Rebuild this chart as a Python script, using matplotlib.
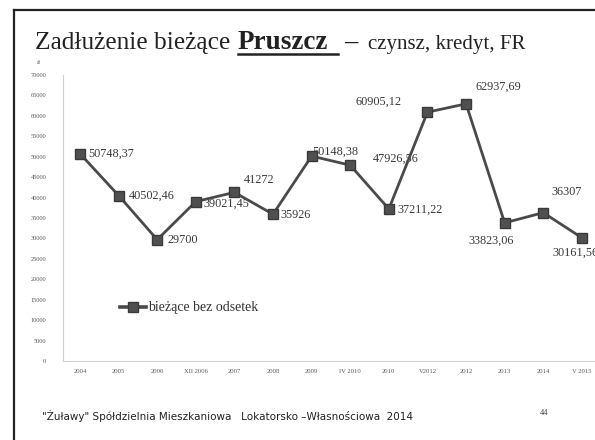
import matplotlib
matplotlib.use("Agg")
import matplotlib.pyplot as plt
from matplotlib.lines import Line2D

categories = ["2004", "2005", "2006", "XII 2006", "2007", "2008", "2009", "IV 2010",
              "2010", "V2012", "2012", "2013", "2014", "V 2015"]
values = [50748.37, 40502.46, 29700, 39021.45, 41272, 35926, 50148.38, 47926.56,
          37211.22, 60905.12, 62937.69, 33823.06, 36307, 30161.56]
value_labels = ["50748,37", "40502,46", "29700", "39021,45", "41272", "35926", "50148,38",
                "47926,56", "37211,22", "60905,12", "62937,69", "33823,06", "36307", "30161,56"]
y_ticks = list(range(0, 70001, 5000))
series_name = "bieżące bez odsetek"

W, H = 595, 440
fig = plt.figure(figsize=(W / 100, H / 100), dpi=100)
fig.patch.set_facecolor("white")

def fx(px):
    return px / W

def fy(py):
    return 1 - py / H

ax = fig.add_axes([fx(63), fy(361), fx(595) - fx(63), fy(75) - fy(361)])
ax.set_facecolor("white")
x = list(range(len(categories)))
ax.plot(x, values, color="#4a4a4a", lw=2.0, marker="s", markersize=6.5,
        markerfacecolor="#505050", markeredgecolor="#3a3a3a", zorder=3,
        label=series_name)
ax.set_xlim(-0.44, 13.34)
ax.set_ylim(0, 70000)
ax.set_yticks(y_ticks)
ax.set_yticklabels([str(t) for t in y_ticks], fontsize=4.6, family="Liberation Serif", color="#5a5a5a")
ax.set_xticks(x)
ax.set_xticklabels(categories, fontsize=4.8, family="Liberation Serif", color="#5a5a5a")
ax.tick_params(axis="y", length=0, pad=12)
ax.tick_params(axis="x", length=0, pad=6)
for s in ["top", "right"]:
    ax.spines[s].set_visible(False)
for s in ["left", "bottom"]:
    ax.spines[s].set_color("#d0d0d0")
    ax.spines[s].set_linewidth(0.8)

# label offsets in pixels (dx, dy, ha)
offsets = [(8, 0, "left"), (10, 0, "left"), (10, 0, "left"), (8, -2, "left"),
           (9, 12, "left"), (7, -1, "left"), (1, 4, "left"), (23, 6, "left"),
           (9, -1, "left"), (-26, 10, "right"), (9, 17, "left"), (-13, -18, "center"),
           (8, 21, "left"), (-29, -15, "left")]
for xi, v, lab, (dx, dy, ha) in zip(x, values, value_labels, offsets):
    ax.annotate(lab, (xi, v), xytext=(dx, dy), textcoords="offset pixels",
                ha=ha, va="center", fontsize=8.8, family="Liberation Serif",
                color="#3a3a3a", zorder=2, annotation_clip=False)

leg = ax.legend(loc="center left", bbox_to_anchor=(fx(120), fy(308)),
                bbox_transform=fig.transFigure, frameon=False, borderpad=0,
                borderaxespad=0, handlelength=1.9, handletextpad=0.15,
                prop={"family": "Liberation Serif", "size": 10})
for t in leg.get_texts():
    t.set_color("#333333")
for h in leg.legend_handles:
    h.set_linewidth(2.6)

# Title
fig.text(fx(35), fy(49), "Zadłużenie bieżące", fontsize=18.3, family="Liberation Serif",
         color="#222222", va="baseline", ha="left")
fig.text(fx(238), fy(49), "Pruszcz", fontsize=19.5, family="Liberation Serif",
         weight="bold", color="#222222", va="baseline", ha="left")
fig.add_artist(Line2D([fx(238), fx(338)], [fy(54), fy(54)], color="#222222", lw=1.8,
                      transform=fig.transFigure))
fig.text(fx(344), fy(49), "–", fontsize=19, family="Liberation Serif", weight="bold",
         color="#222222", va="baseline", ha="left")
fig.text(fx(368), fy(49), "czynsz, kredyt, FR", fontsize=15, family="Liberation Serif",
         color="#222222", va="baseline", ha="left")
fig.text(fx(37), fy(62), "zł", fontsize=4, family="Liberation Serif", color="#555555",
         va="center", ha="left")

# Footer
fig.text(fx(42), fy(416), "\"Żuławy\" Spółdzielnia Mieszkaniowa   Lokatorsko –Własnościowa  2014",
         fontsize=7.5, family="DejaVu Sans", color="#222222", va="center", ha="left")
fig.text(fx(540), fy(413), "44", fontsize=6, family="Liberation Serif", color="#444444",
         va="center", ha="left")

# Slide frame
fig.add_artist(Line2D([fx(14), fx(595)], [fy(10), fy(10)], color="#222222", lw=1.6,
                      transform=fig.transFigure))
fig.add_artist(Line2D([fx(14), fx(14)], [fy(10), fy(440)], color="#222222", lw=1.6,
                      transform=fig.transFigure))

fig.savefig("out.png", dpi=100)
